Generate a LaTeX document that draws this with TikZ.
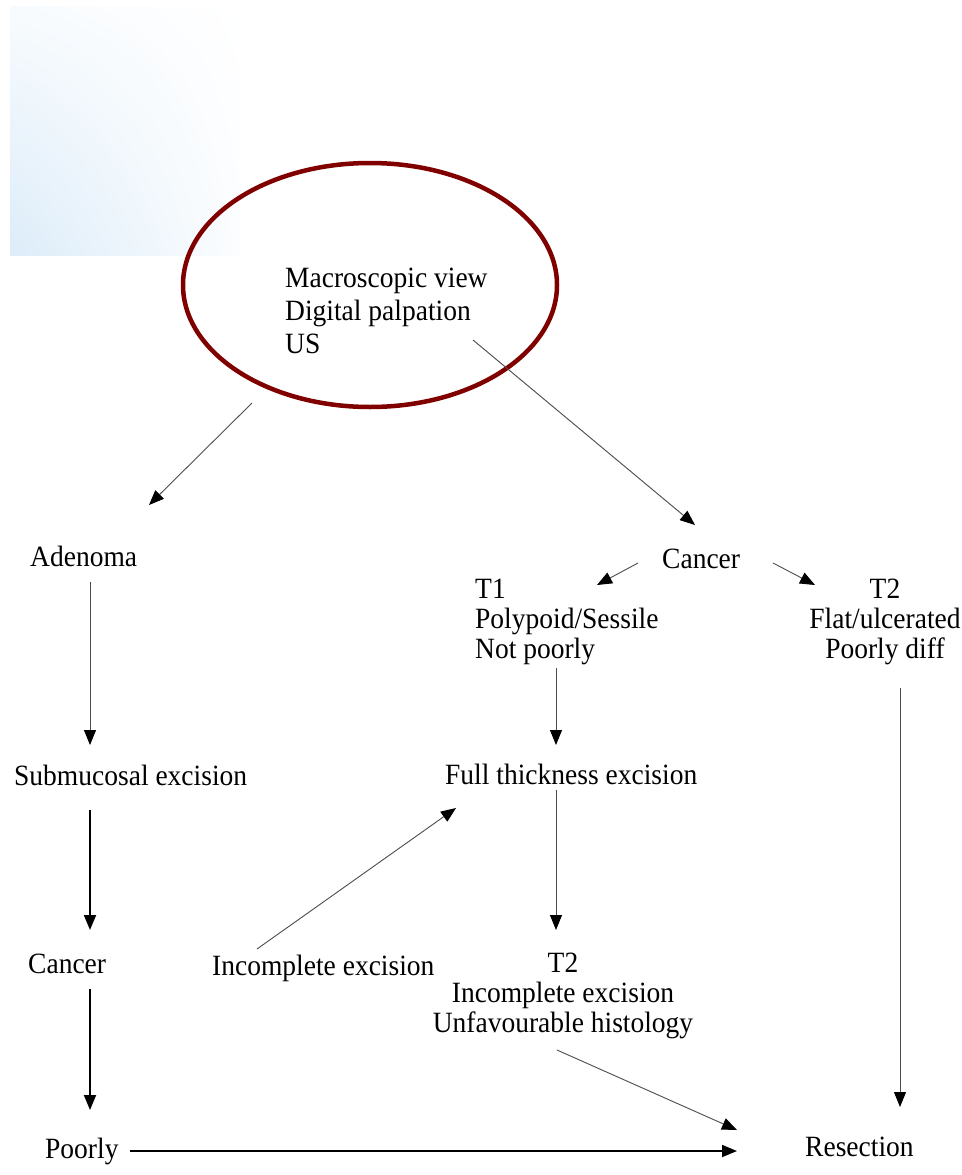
\documentclass[tikz,border=0pt]{standalone}
\usepackage{fontspec}
\setmainfont{Liberation Serif}
\usetikzlibrary{arrows.meta,shapes.geometric,shadings}

\definecolor{ovalred}{RGB}{128,0,0}
\definecolor{fadeblue}{RGB}{220,236,249}

\begin{document}
\begin{tikzpicture}[x=1pt,y=-1pt,
    txt/.style={inner sep=0pt, font=\fontsize{27.5}{28}\selectfont, yscale=1.07, transform shape},
    oval/.style={ellipse, draw=ovalred, line width=4.5pt, minimum width=374pt, minimum height=244pt, inner sep=0pt},
    flowarr/.style={draw=black!70, line width=0.9pt, -{Triangle[length=15pt,width=12pt,color=black]}},
    boldarr/.style={draw=black, line width=1.8pt, -{Triangle[length=15pt,width=12pt]}}]
    \useasboundingbox (0,0) rectangle (961,1175);

    % faded corner panel
    \shade[upper left=fadeblue!20, upper right=white, lower left=fadeblue, lower right=white!90!fadeblue] (10,6) rectangle (240,255);

    % examination
    \node[oval] (view) at (370,285) {};
    \node[txt, anchor=base west, align=left, font=\fontsize{27.5}{30.4}\selectfont] (macro) at (285,353) {Macroscopic view\\Digital palpation\\US};

    % left branch
    \node[txt, anchor=base west] (adenoma) at (30,566) {Adenoma};
    \node[txt, anchor=base west] (submuc) at (14,785) {Submucosal excision};
    \node[txt, anchor=base west] (cancerL) at (28,973) {Cancer};
    \node[txt, anchor=base west] (poorly) at (45,1158) {Poorly};

    % right branch
    \node[txt, anchor=base west] (cancerT) at (662,568) {Cancer};
    \node[txt, anchor=base west, align=left] (t1) at (475,658) {T1\\Polypoid/Sessile\\Not poorly};
    \node[txt, anchor=base, align=center] (t2r) at (885,658) {T2\\Flat/ulcerated\\Poorly diff};
    \node[txt, anchor=base west] (full) at (445,784) {Full thickness excision};
    \node[txt, anchor=base west] (incomp) at (212,975) {Incomplete excision};
    \node[txt, anchor=base, align=center] (t2b) at (563,1032) {T2\\Incomplete excision\\Unfavourable histology};
    \node[txt, anchor=base west] (resect) at (805,1156) {Resection};

    % connectors
    \draw[flowarr] ([xshift=-118pt,yshift=-118pt]view.center) -- ([xshift=119pt,yshift=61pt]adenoma.base west);
    \draw[flowarr] ([xshift=188pt,yshift=13pt]macro.base west) -- ([xshift=33pt,yshift=43pt]cancerT.base west);
    \draw[flowarr] ([xshift=-24pt,yshift=5pt]cancerT.base west) -- ([xshift=122pt,yshift=73pt]t1.base west);
    \draw[flowarr] ([xshift=111pt,yshift=5pt]cancerT.base west) -- ([xshift=-70pt,yshift=73pt]t2r.base);
    \draw[flowarr] ([xshift=81pt,yshift=-10pt]t1.base west) -- ([xshift=111pt,yshift=39pt]full.base west);
    \draw[flowarr] ([xshift=60pt,yshift=-16pt]adenoma.base west) -- ([xshift=76pt,yshift=40pt]submuc.base west);
    \draw[boldarr] ([xshift=76pt,yshift=-25pt]submuc.base west) -- ([xshift=62pt,yshift=43pt]cancerL.base west);
    \draw[boldarr] ([xshift=62pt,yshift=-16pt]cancerL.base west) -- ([xshift=45pt,yshift=48pt]poorly.base west);
    \draw[boldarr] ([xshift=85pt,yshift=7pt]poorly.base west) -- ([xshift=-68pt,yshift=5pt]resect.base west);
    \draw[flowarr] ([xshift=111pt,yshift=-6pt]full.base west) -- ([xshift=-7pt,yshift=102pt]t2b.base);
    \draw[flowarr] ([xshift=45pt,yshift=26pt]incomp.base west) -- ([xshift=11pt,yshift=-24pt]full.base west);
    \draw[flowarr] ([xshift=-6pt,yshift=-18pt]t2b.base) -- ([xshift=-68pt,yshift=26pt]resect.base west);
    \draw[flowarr] ([xshift=15pt,yshift=-30pt]t2r.base) -- ([xshift=95pt,yshift=49pt]resect.base west);
\end{tikzpicture}
\end{document}
